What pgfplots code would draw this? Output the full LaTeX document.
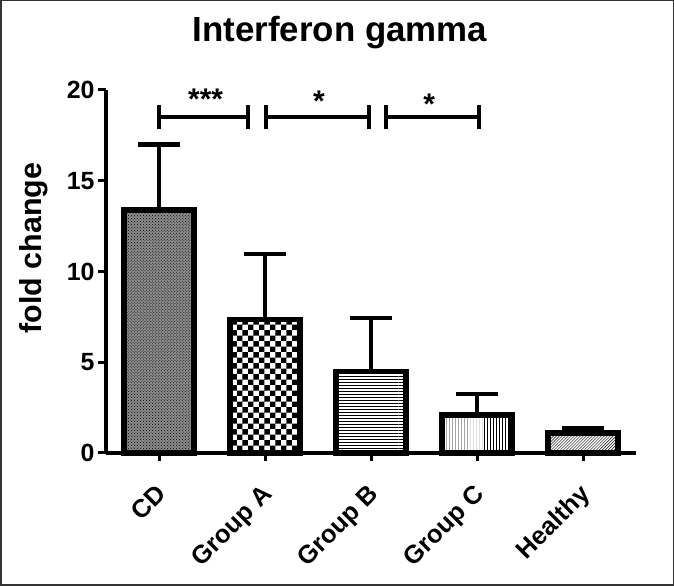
\documentclass[border=0pt]{standalone}
\usepackage{fontspec}
\setmainfont{Liberation Sans}
\usepackage{pgfplots}
\pgfplotsset{compat=1.18}
\usetikzlibrary{patterns}
\begin{document}
\begin{tikzpicture}[x=1bp,y=1bp]
\useasboundingbox (0,0) rectangle (674,586);
\draw[line width=1.5bp, black!80] (0.75,0.75) rectangle (673.25,585.25);
\begin{axis}[
  at={(106bp,133bp)}, anchor=south west,
  scale only axis, width=530bp, height=363bp,
  xmin=-0.5, xmax=4.5, ymin=0, ymax=20,
  axis x line*=bottom, axis y line*=left,
  axis line style={-, line width=3.5bp, black},
  xtick={0,1,2,3,4},
  xticklabels={CD,Group A,Group B,Group C,Healthy},
  ytick={0,5,10,15,20},
  tick align=outside, major tick length=8bp,
  tick style={line width=3bp, black},
  /pgf/number format/assume math mode=true,
  xticklabel style={rotate=45, anchor=north east, xshift=-15bp, yshift=-9bp, font=\fontsize{25.5}{25.5}\selectfont\bfseries},
  yticklabel style={font=\fontsize{25}{25}\selectfont\bfseries},
  ylabel={fold change},
  ylabel style={at={(axis description cs:-0.137,0.565)}, anchor=center, font=\fontsize{30.5}{30.5}\selectfont\bfseries},
  title={Interferon gamma},
  title style={at={(axis description cs:0.4415,1)}, anchor=base, yshift=43bp, font=\fontsize{35}{35}\selectfont\bfseries},
  clip=false,
  err/.style={error bars/.cd, y dir=plus, y explicit,
    error bar style={line width=4.5bp, black},
    error mark options={rotate=90, line width=4.5bp, mark size=21bp, black}},
]
\addplot[ybar, bar width=70bp, bar shift=0pt, draw=black, line width=5.5bp, fill=black!45,
  postaction={pattern=crosshatch dots, pattern color=black}, err]
  coordinates {(0,13.4) +- (0,3.6)};
\addplot[ybar, bar width=70bp, bar shift=0pt, draw=black, line width=5.5bp, pattern=checkerboard, err]
  coordinates {(1,7.35) +- (0,3.6)};
\addplot[ybar, bar width=70bp, bar shift=0pt, draw=black, line width=5.5bp, pattern=horizontal lines, err]
  coordinates {(2,4.5) +- (0,2.95)};
\addplot[ybar, bar width=70bp, bar shift=0pt, draw=black, line width=5.5bp, pattern=vertical lines, err]
  coordinates {(3,2.1) +- (0,1.15)};
\addplot[ybar, bar width=70bp, bar shift=0pt, draw=black, line width=5.5bp, pattern=north east lines, err]
  coordinates {(4,1.1) +- (0,0.25)};
% significance brackets
\addplot[black, line width=4bp, mark=none, unbounded coords=jump]
  coordinates {(0,18.5) (0.84,18.5) (nan,nan) (1.01,18.5) (1.98,18.5) (nan,nan) (2.14,18.5) (3.02,18.5)};
\addplot[black, line width=4.5bp, mark=none, unbounded coords=jump]
  coordinates {(0,17.85) (0,19.15) (nan,nan) (0.84,17.85) (0.84,19.15) (nan,nan)
               (1.01,17.85) (1.01,19.15) (nan,nan) (1.98,17.85) (1.98,19.15) (nan,nan)
               (2.14,17.85) (2.14,19.15) (nan,nan) (3.02,17.85) (3.02,19.15)};
\node[font=\fontsize{30}{30}\selectfont\bfseries, anchor=base] at (axis cs:0.44,18.95) {***};
\node[font=\fontsize{30}{30}\selectfont\bfseries, anchor=base] at (axis cs:1.51,18.8) {*};
\node[font=\fontsize{30}{30}\selectfont\bfseries, anchor=base] at (axis cs:2.55,18.65) {*};
\end{axis}
\end{tikzpicture}
\end{document}
